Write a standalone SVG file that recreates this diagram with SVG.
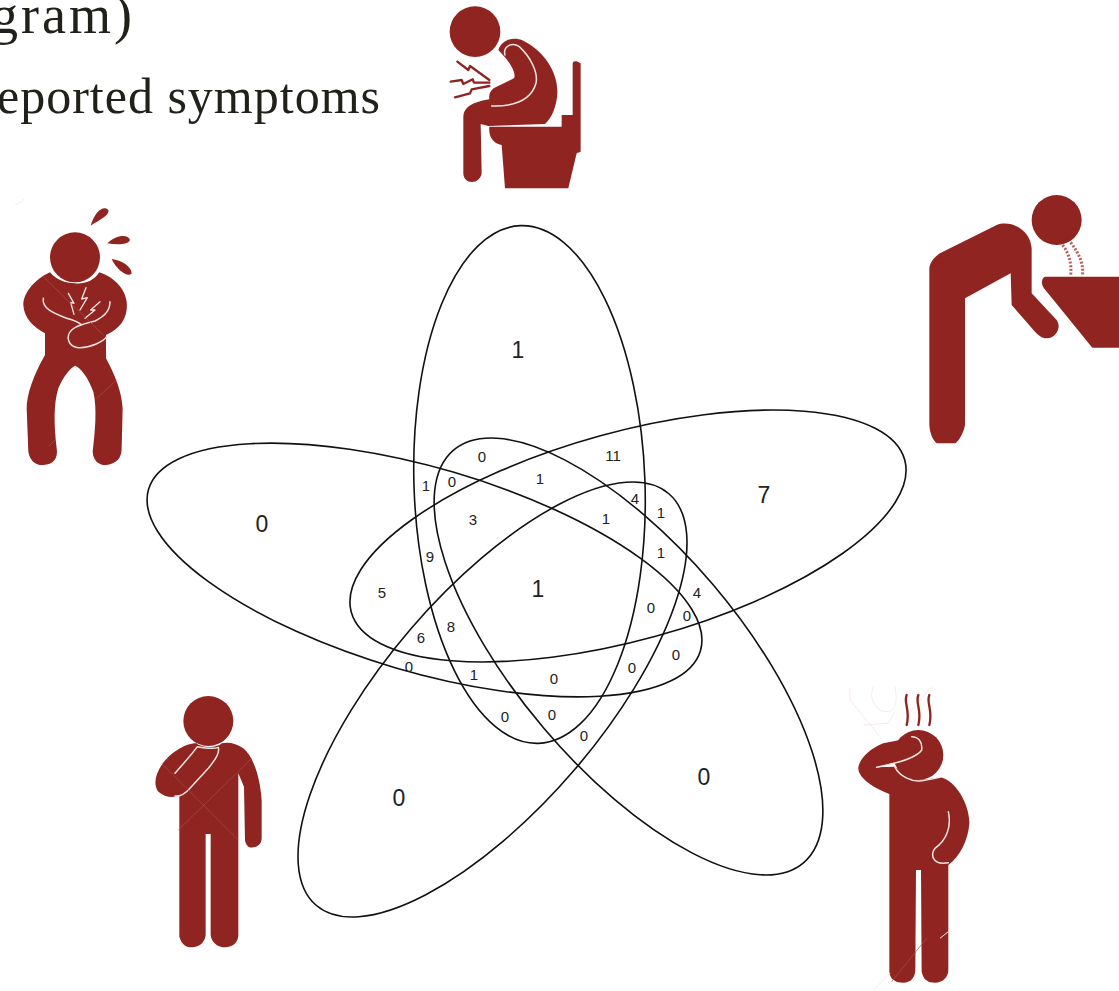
<svg xmlns="http://www.w3.org/2000/svg" width="1119" height="991" viewBox="0 0 1119 991">
<style>
.set{fill:none;stroke:#111;stroke-width:1.6}
.s{font-family:"Liberation Sans",Arial,sans-serif;font-size:15px;fill:#222;text-anchor:middle;dominant-baseline:central}
.b{font-family:"Liberation Sans",Arial,sans-serif;font-size:23px;fill:#222;text-anchor:middle;dominant-baseline:central}
.t{font-family:"Liberation Serif","Times New Roman",serif;fill:#22201a;text-anchor:end}
.i{fill:#8f2421}
.w{fill:none;stroke:#f4e4e2;stroke-width:4.5;stroke-linecap:round;stroke-linejoin:round}
.z{fill:none;stroke:#8f2421;stroke-width:7;stroke-linecap:round;stroke-linejoin:round}
.f{fill:none;stroke:#f6eaea;stroke-width:3}
.x{fill:none;stroke:#a8504c;stroke-width:2}
</style>
<rect width="1119" height="991" fill="#fff"/>
<g id="title">
<text class="t" x="135" y="33" font-size="54" letter-spacing="3">gram)</text>
<text class="t" x="381" y="113" font-size="50" letter-spacing="1">reported symptoms</text>
</g>
<g id="icon-diarrhea" transform="translate(430 0) scale(.3333)">
<circle class="i" cx="135" cy="95" r="76"/>
<path class="i" d="M205,150C215,120 250,108 280,122C340,152 385,215 382,280C380,320 365,355 345,372L175,378L152,372L155,520C150,555 100,555 100,520L100,350C100,322 130,305 178,298C175,280 185,265 200,260L252,235C258,225 250,195 205,150Z"/>
<path class="i" d="M178,380L395,380L395,345L428,345L428,190Q428,182 440,184L452,190L452,455L440,460L415,565L225,565L215,435C190,430 175,410 178,380Z"/>
<path class="w" d="M225,165C218,140 245,125 268,140C300,170 325,215 318,250C305,295 265,320 185,318"/>
<path class="z" d="M82,185L115,210L120,198L178,240M62,245L95,240L100,252L128,238L132,248L178,248M75,292L120,280L125,268L178,258"/>
</g>
<g id="icon-abdominal-pain" transform="translate(0 195) scale(.3333)">
<circle class="i" cx="225" cy="187" r="75"/>
<path class="i" d="M150,232C110,250 70,290 70,330C72,370 100,395 135,415L135,480C100,540 80,600 80,640L85,770C90,800 110,812 130,810C160,810 175,790 170,760C162,690 160,630 175,580C190,545 210,520 225,512C245,520 265,550 280,590C292,640 285,710 278,770C280,800 300,812 320,810C350,805 365,790 365,760L368,640C365,590 345,540 318,490L318,420C360,400 385,370 380,320C375,280 340,245 298,232C280,260 250,268 225,265C195,265 170,255 150,232Z"/>
<path class="i" d="M272,92C285,50 310,30 325,45C330,60 300,75 272,92ZM322,145C345,120 385,115 390,135C385,150 350,150 322,145ZM335,192C365,195 395,215 395,235C385,250 350,225 335,192Z"/>
<path class="w" d="M130,310C125,340 160,355 200,370C220,375 240,385 245,390M330,320C330,350 310,365 285,378C260,385 230,390 215,405C195,425 205,455 235,458C270,460 310,440 320,425"/>
<path class="w" style="stroke-width:4" d="M205,295L222,325L212,322L222,358M258,278L245,312L262,308L240,345M300,320L272,345L285,345L255,370"/>
<path class="x" d="M130,245L310,420M350,555L290,610M165,735L145,755"/>
<path class="f" d="M45,28C55,28 65,22 72,12"/>
</g>
<g id="icon-nausea" transform="translate(920 185) scale(.3333)">
<circle class="i" cx="410" cy="105" r="75"/>
<path class="i" d="M28,250C30,230 45,215 60,205L230,120C270,105 330,130 335,190L335,325L410,405C425,425 410,460 380,460C365,460 355,450 345,440L275,360L272,265L135,340L135,720C130,750 110,775 105,775L50,775C40,765 30,750 28,720Z"/>
<path class="i" d="M375,275L597,275L597,488L517,488L372,310C362,295 365,280 375,275Z"/>
<path d="M428,180C450,210 455,240 452,272M452,172C480,210 492,240 487,272" fill="none" stroke="#b8605c" stroke-width="9" stroke-dasharray="6 5"/>
</g>
<g id="icon-headache" transform="translate(840 680) scale(.3333)">
<path class="f" d="M30,25L30,60L120,170M100,20C85,50 105,95 140,95C175,95 170,50 165,20M165,95L145,130L70,135M275,20L215,90"/>
<circle class="i" cx="235" cy="225" r="75"/>
<path class="i" d="M230,170L130,190C90,205 55,240 55,265C55,290 90,320 148,342L148,875C150,900 170,908 190,908C215,908 225,890 226,870L228,570L243,570L245,875C250,900 265,908 285,908C310,908 325,890 325,870L325,555C360,530 385,480 388,430C390,380 350,300 300,292C280,295 240,305 210,295L165,260L110,262L210,235Z"/>
<path class="w" d="M110,262C170,250 230,235 245,210C248,185 235,170 215,170M165,262C180,290 215,305 240,303C265,300 285,295 300,292M325,395C335,440 320,480 285,505C270,525 280,550 310,550L325,548"/>
<path d="M200,45C190,70 212,90 200,135M235,45C225,70 247,90 235,135M268,45C258,70 280,90 268,135" fill="none" stroke="#8f2421" stroke-width="7" stroke-linecap="round"/>
<path class="x" d="M155,905L260,775"/>
<path class="f" d="M100,930L150,880M300,775L325,755"/>
</g>
<g id="icon-sore-throat" transform="translate(140 690) scale(.3333)">
<circle class="i" cx="205" cy="93" r="75"/>
<path class="i" d="M170,160C130,160 85,195 65,225C45,255 40,285 55,305C75,322 100,325 118,315L118,740C125,765 140,772 155,772C180,772 195,755 197,735L197,432L212,432L212,735C215,760 235,772 255,772C280,772 295,755 295,735L295,250L312,290L315,450C318,470 330,475 340,472C360,470 365,455 365,445L365,330C360,260 340,200 310,175C290,160 265,155 245,160C230,175 185,175 170,160Z"/>
<path class="w" d="M105,250C125,225 155,195 172,170C200,175 220,178 235,172C240,190 225,210 205,235L145,300C130,315 118,320 105,318"/>
<path class="x" d="M65,220L295,450M115,420L335,205"/>
</g>
<g id="sets">
<ellipse id="set-top" class="set" cx="529.5" cy="484.5" rx="259" ry="115.5" transform="rotate(88 529.5 484.5)"/>
<ellipse id="set-right" class="set" cx="628" cy="536" rx="287" ry="104" transform="rotate(-15.4 628 536)"/>
<ellipse id="set-left" class="set" cx="424.5" cy="570" rx="287.5" ry="102" transform="rotate(16.3 424.5 570)"/>
<ellipse id="set-lower-left" class="set" cx="492.5" cy="699.5" rx="271" ry="108" transform="rotate(-49.4 492.5 699.5)"/>
<ellipse id="set-lower-right" class="set" cx="628.5" cy="656.5" rx="270.5" ry="111" transform="rotate(49.7 628.5 656.5)"/>
</g>
<g id="labels">
<text class="b" x="518" y="350">1</text><text class="b" x="764" y="495">7</text><text class="b" x="262" y="524">0</text><text class="b" x="399" y="798">0</text><text class="b" x="704" y="777">0</text><text class="b" x="538" y="589">1</text>
<text class="s" x="482" y="456">0</text><text class="s" x="613" y="455">11</text><text class="s" x="426" y="485">1</text><text class="s" x="452" y="481">0</text><text class="s" x="540" y="478">1</text><text class="s" x="635" y="498">4</text><text class="s" x="661" y="512">1</text><text class="s" x="473" y="519">3</text><text class="s" x="606" y="518">1</text><text class="s" x="661" y="552">1</text><text class="s" x="430" y="556">9</text><text class="s" x="382" y="592">5</text><text class="s" x="697" y="592">4</text><text class="s" x="651" y="607">0</text><text class="s" x="687" y="615">0</text><text class="s" x="451" y="626">8</text><text class="s" x="421" y="637">6</text><text class="s" x="676" y="654">0</text><text class="s" x="409" y="666">0</text><text class="s" x="474" y="674">1</text><text class="s" x="554" y="678">0</text><text class="s" x="632" y="667">0</text><text class="s" x="505" y="716">0</text><text class="s" x="552" y="714">0</text><text class="s" x="584" y="735">0</text>
</g>
</svg>
